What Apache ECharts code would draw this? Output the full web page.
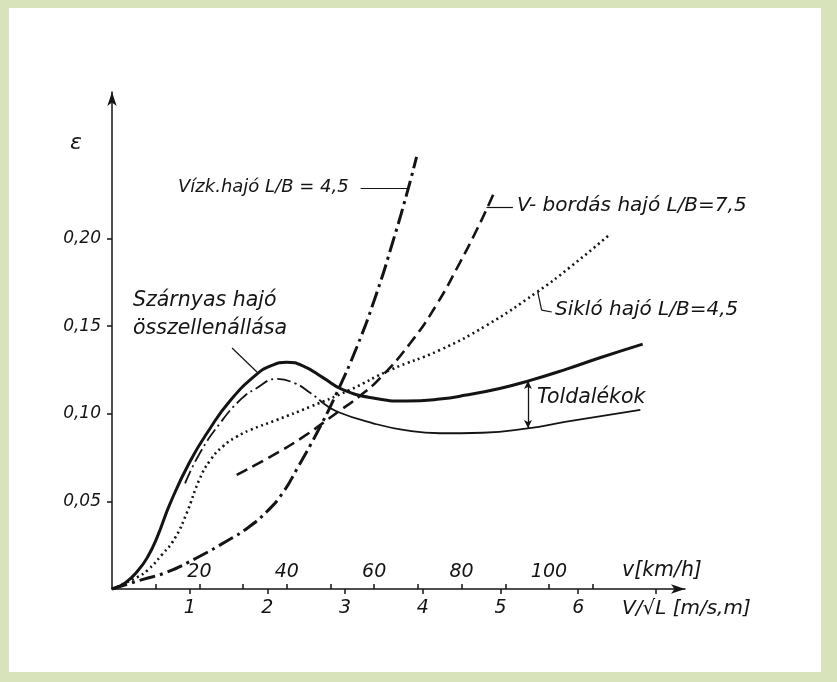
<!DOCTYPE html>
<html>
<head>
<meta charset="utf-8">
<script src="https://cdn.jsdelivr.net/npm/echarts@6/dist/echarts.min.js"></script>
<style>
  html, body { margin: 0; padding: 0; background: #d8e3bb; }
  #paper { position: absolute; left: 9px; top: 8px; width: 812px; height: 664px; background: #fff; }
  #chart { position: absolute; left: 0; top: 0; width: 837px; height: 682px; }
</style>
</head>
<body>
<div id="paper"></div>
<div id="chart"></div>
<script>
// V/sqrt(L) axis [m/s,m] and the km/h scale drawn on the same line
const xMax = 7.375
const kmhPerUnit = 17.78
const xTicks = [1, 2, 3, 4, 5, 6, 7]
const xLabels = [1, 2, 3, 4, 5, 6]
const kmhTicks = [10, 20, 30, 40, 50, 60, 70, 80, 90, 100, 110]
const kmhLabels = [20, 40, 60, 80, 100]
const yMax = 0.2837
const yTicks = [0.05, 0.1, 0.15, 0.2]

// curves, [V/sqrt(L), epsilon]
const szarnyas = [[0, 0], [0.17, 0.0035], [0.34, 0.0108], [0.46, 0.0184], [0.58, 0.0295], [0.75, 0.049],
  [1.0, 0.0725], [1.26, 0.0915], [1.52, 0.1075], [1.86, 0.1225], [2.05, 0.1275], [2.25, 0.1294],
  [2.45, 0.1275], [2.72, 0.1205], [2.97, 0.1138], [3.36, 0.109], [3.79, 0.1073], [4.22, 0.1084],
  [4.56, 0.1107], [4.99, 0.1145], [5.34, 0.1185], [5.85, 0.1255], [6.28, 0.132], [6.83, 0.1398]]
const szarnyasCsupasz = [[0.94, 0.0603], [1.13, 0.0775], [1.39, 0.0946], [1.65, 0.1079], [1.86, 0.1146],
  [2.12, 0.1199], [2.35, 0.1175], [2.55, 0.112], [2.72, 0.106]]
const szarnyasVege = [[2.72, 0.106], [2.9, 0.1012], [3.36, 0.0946], [3.79, 0.0905], [4.22, 0.0889],
  [4.77, 0.0892], [5.35, 0.0917], [5.85, 0.0955], [6.8, 0.1022]]
const siklo = [[0, 0], [0.335, 0.007], [0.46, 0.0108], [0.64, 0.0194], [0.81, 0.029], [0.96, 0.0432],
  [1.13, 0.063], [1.27, 0.0738], [1.43, 0.0815], [1.6, 0.0868], [1.78, 0.0908], [2.12, 0.0965],
  [2.55, 0.104], [3.06, 0.1136], [3.58, 0.125], [4.22, 0.1364], [4.82, 0.1505], [5.47, 0.1695],
  [5.89, 0.1835], [6.41, 0.2025]]
const vbordas = [[1.605, 0.0651], [2.03, 0.0753], [2.46, 0.0868], [2.89, 0.1005], [3.19, 0.1102],
  [3.45, 0.1204], [3.84, 0.1404], [4.18, 0.1625], [4.48, 0.1865], [4.7, 0.2055], [4.86, 0.2205], [4.93, 0.2275]]
const vizk = [[0, 0], [0.4, 0.0055], [0.7, 0.0095], [1.1, 0.018], [1.5, 0.028], [1.75, 0.035],
  [2.0, 0.0445], [2.2, 0.055], [2.38, 0.0685], [2.63, 0.0885], [2.89, 0.1117], [3.15, 0.138],
  [3.4, 0.168], [3.62, 0.199], [3.8, 0.2265], [3.92, 0.2467]]

// leader lines and the "Toldalékok" span, in data units
const vizkLeader = [[3.2, 0.2289], [3.8, 0.2289]]
const vbordasLeader = [[4.82, 0.218], [5.16, 0.218]]
const sikloLeader = [[5.48, 0.1695], [5.53, 0.1592], [5.66, 0.1581]]
const szarnyasLeader = [[1.545, 0.1376], [1.866, 0.1239]]
const toldalek = [[5.354, 0.0919], [5.354, 0.1187]]

const ink = '#141414'
const font = '"DejaVu Sans", sans-serif'

const seg = (pts) => {
  const out = []
  for (let i = 1; i < pts.length; i++) out.push([{ coord: pts[i - 1] }, { coord: pts[i] }])
  return out
}
const leader = (pts) => ({
  silent: true,
  symbol: 'none',
  label: { show: false },
  lineStyle: { color: ink, width: 1.2, type: 'solid' },
  data: seg(pts)
})

const curve = (data, width, type, extra) => Object.assign({
  type: 'line',
  data,
  smooth: 0.5,
  showSymbol: false,
  silent: true,
  lineStyle: { color: ink, width, type, cap: 'butt' }
}, extra || {})

const text = (t, x, y, size) => ({
  type: 'text',
  x, y,
  style: { text: t, fill: ink, font: 'italic ' + (size || 20) + 'px ' + font, textVerticalAlign: 'middle' }
})

const tickFont = { color: ink, fontSize: 19, fontStyle: 'italic', fontFamily: font }

const chart = echarts.init(document.getElementById('chart'))
chart.setOption({
  animation: false,
  backgroundColor: 'transparent',
  grid: { left: 112, right: 152, top: 92, bottom: 93, outerBoundsMode: 'none' },
  xAxis: [
    {
      type: 'value', min: 0, max: xMax, position: 'bottom',
      axisLine: { show: true, symbol: ['none', 'arrow'], symbolSize: [7, 14], lineStyle: { color: ink, width: 1.5 } },
      axisTick: { show: true, customValues: xTicks, length: 5, lineStyle: { color: ink, width: 1.5 } },
      axisLabel: Object.assign({ customValues: xLabels, margin: 10 }, tickFont),
      splitLine: { show: false }
    },
    {
      type: 'value', min: 0, max: xMax * kmhPerUnit, position: 'bottom',
      axisLine: { show: false },
      axisTick: { show: true, inside: true, customValues: kmhTicks, length: 5, lineStyle: { color: ink, width: 1.5 } },
      axisLabel: Object.assign({ inside: true, customValues: kmhLabels, margin: 7 }, tickFont),
      splitLine: { show: false }
    }
  ],
  yAxis: {
    type: 'value', min: 0, max: yMax,
    axisLine: { show: true, symbol: ['none', 'arrow'], symbolSize: [7, 14], lineStyle: { color: ink, width: 1.5 } },
    axisTick: { show: true, customValues: yTicks, length: 5, lineStyle: { color: ink, width: 1.5 } },
    axisLabel: Object.assign({ customValues: yTicks, margin: 11, formatter: (v) => v.toFixed(2).replace('.', ',') },
      tickFont, { fontSize: 17 }),
    splitLine: { show: false }
  },
  series: [
    curve(szarnyas, 3, 'solid', { markLine: leader(szarnyasLeader) }),
    curve(szarnyasCsupasz, 1.8, [14, 4, 2, 4]),
    curve(szarnyasVege, 1.8, 'solid', {
      markLine: {
        silent: true,
        symbol: ['arrow', 'arrow'],
        symbolSize: [6, 8],
        label: { show: false },
        lineStyle: { color: ink, width: 1.3, type: 'solid' },
        data: seg(toldalek)
      }
    }),
    curve(siklo, 2.6, [2, 3.5], { markLine: leader(sikloLeader) }),
    curve(vbordas, 2.6, [12, 6], { markLine: leader(vbordasLeader) }),
    curve(vizk, 3, [16, 5, 3, 5], { markLine: leader(vizkLeader) })
  ],
  graphic: [
    text('ε', 70, 143, 22),
    text('Vízk.hajó L/B = 4,5', 178, 187, 18),
    text('V- bordás hajó L/B=7,5', 517, 206),
    text('Sikló hajó L/B=4,5', 555, 310),
    text('Szárnyas hajó', 133, 301, 20.5),
    text('összellenállása', 133, 329, 20.5),
    text('Toldalékok', 537, 398, 20.5),
    text('v[km/h]', 622, 571, 20.5),
    text('V/√L [m/s,m]', 622, 609)
  ]
})
</script>
</body>
</html>
